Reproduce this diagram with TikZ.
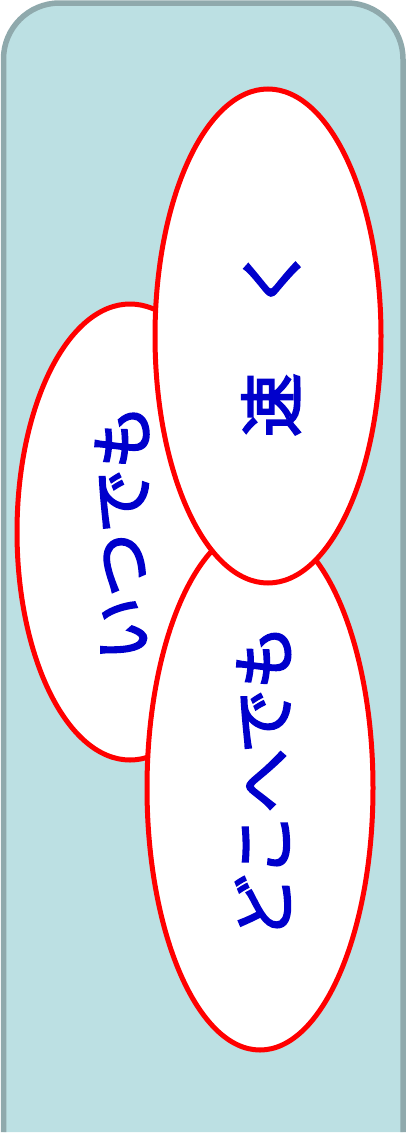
\documentclass[tikz,border=0pt]{standalone}
\usepackage{fontspec}
\newfontfamily\cjk{Noto Sans CJK JP}[FakeBold=3]
\usetikzlibrary{shapes.geometric}
\definecolor{bgfill}{HTML}{BCE0E3}
\definecolor{bgline}{HTML}{8FA9AC}
\definecolor{txtblue}{HTML}{0000CC}
\tikzset{
  bubble/.style={draw=red, line width=5pt, fill=white, ellipse, inner sep=0pt},
  vtext/.style={text=txtblue, rotate=90, font=\cjk\fontsize{64}{64}\selectfont, inner sep=0pt}
}
\begin{document}
\begin{tikzpicture}[x=1pt,y=-1pt]
\useasboundingbox (0,0) rectangle (406,1135);
\path[fill=bgfill, draw=bgline, line width=5.5pt, rounded corners=56pt] (3.5,1132) -- (3.5,3) -- (403,3) -- (403,1132);
\node[bubble, minimum width=226pt, minimum height=456pt] (e1) at (130,532) {};
\node[bubble, minimum width=226pt, minimum height=524pt] (e3) at (260,788) {};
\node[bubble, minimum width=226pt, minimum height=494pt] (e2) at (268,336) {};
\node[vtext] (t1) at (122,533) {いつでも};
\node[vtext] (t3) at (263,782) {どこへでも};
\node[vtext] (t2) at (271,341) {速　く};
\end{tikzpicture}
\end{document}
